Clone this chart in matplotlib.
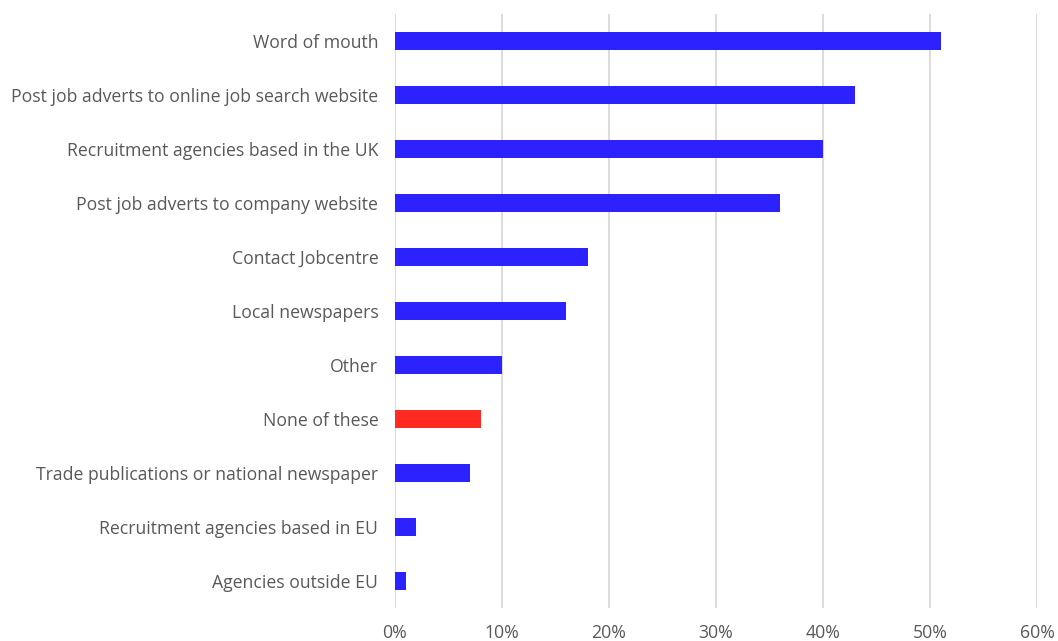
import matplotlib.pyplot as plt
from matplotlib.ticker import PercentFormatter

# Recruitment methods used by employers (share of respondents, %)
methods = [
    'Word of mouth',
    'Post job adverts to online job search website',
    'Recruitment agencies based in the UK',
    'Post job adverts to company website',
    'Contact Jobcentre',
    'Local newspapers',
    'Other',
    'None of these',
    'Trade publications or national newspaper',
    'Recruitment agencies based in EU',
    'Agencies outside EU',
]
shares = [51, 43, 40, 36, 18, 16, 10, 8, 7, 2, 1]

blue = '#2B22FF'
red = '#FF2B22'
colors = [red if m == 'None of these' else blue for m in methods]

plt.rcParams['font.family'] = ['Open Sans', 'DejaVu Sans']

fig = plt.figure(figsize=(10.58, 6.41), dpi=100)
ax = fig.add_axes([0.3733, 0.051, 0.607, 0.927])

ypos = range(len(methods))
ax.barh(ypos, shares, height=0.34, color=colors, zorder=3)

ax.set_yticks(list(ypos))
ax.set_yticklabels(methods, fontsize=12.7, color='#595959')
ax.set_ylim(len(methods) - 0.5, -0.5)

ax.set_xlim(0, 60)
ax.set_xticks(range(0, 61, 10))
ax.xaxis.set_major_formatter(PercentFormatter(decimals=0))
ax.tick_params(axis='x', labelsize=12.7, labelcolor='#595959', length=0, pad=11)
ax.tick_params(axis='y', length=0, pad=12)

ax.grid(axis='x', color='#D9D9D9', linewidth=1.3, zorder=0)
for side in ['top', 'right', 'bottom', 'left']:
    ax.spines[side].set_visible(False)

fig.savefig('out.png', dpi=100)
